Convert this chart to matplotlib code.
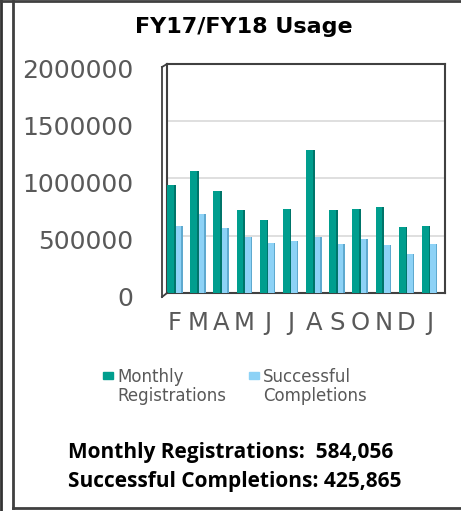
import numpy as np
import matplotlib
matplotlib.use("Agg")
from matplotlib import pyplot as plt
from matplotlib.lines import Line2D
from matplotlib.patches import Rectangle
import matplotlib.transforms as mtransforms

# ---- data ----
months = ["F", "M", "A", "M", "J", "J", "A", "S", "O", "N", "D", "J"]
monthly_reg = [946000, 1068000, 887000, 720000, 639000, 735000, 1244000,
               724000, 729000, 750000, 575000, 584056]
successful = [586000, 691000, 566000, 492000, 434000, 454000, 492000,
              428000, 472000, 419000, 340000, 425865]
y_ticks = [0, 500000, 1000000, 1500000, 2000000]

TEAL = "#009e8e"
TEAL_DARK = "#00756a"
BLUE = "#8dd2f6"
BLUE_DARK = "#5fa9cf"
GREY = "#595959"

W, H = 461, 511
fig = plt.figure(figsize=(W / 100, H / 100), dpi=100)


def fx(px):
    return px / W


def fy(py):
    return 1 - py / H


ax = fig.add_axes([fx(167), fy(292.8), fx(445) - fx(167), fy(64) - fy(292.8)])

x = np.arange(len(months))
w1, w2 = 0.37, 0.30
ax.bar(x - 0.5, monthly_reg, width=w1, align="edge", color=TEAL, zorder=3)
ax.bar(x - 0.5 + w1 - 0.07, monthly_reg, width=0.07, align="edge", color=TEAL_DARK, zorder=3)
ax.bar(x - 0.5 + w1, successful, width=w2, align="edge", color=BLUE, zorder=3)
ax.bar(x - 0.5 + w1 + w2 - 0.06, successful, width=0.06, align="edge", color=BLUE_DARK, zorder=3)

ax.set_xlim(-0.5, 11.5)
ax.set_ylim(0, 2000000)
ax.set_yticks(y_ticks)
ax.set_yticklabels([str(v) for v in y_ticks])
ax.set_xticks(x - 0.5 + (w1 + w2) / 2)
ax.set_xticklabels(months)
ax.tick_params(axis="y", length=0, pad=24, labelsize=18, labelcolor=GREY)
ax.tick_params(axis="x", length=0, pad=13, labelsize=17.5, labelcolor=GREY)
ax.grid(axis="y", color="#d9d9d9", linewidth=1.2, zorder=0)
for s in ax.spines.values():
    s.set_color("#404040")
    s.set_linewidth(1.5)

# nudge y labels down a few pixels like the original
for lab in ax.get_yticklabels():
    lab.set_transform(lab.get_transform() +
                      mtransforms.ScaledTranslation(0, -4 / 100, fig.dpi_scale_trans))

# 3D side wall of the plot area
wall = [((162, 67), (162, 297)), ((162, 67), (167, 64)), ((162, 297), (167, 293))]
for (x0, y0), (x1, y1) in wall:
    fig.add_artist(Line2D([fx(x0), fx(x1)], [fy(y0), fy(y1)], color="#404040", lw=1.3))

# title
fig.text(fx(244), fy(17), "FY17/FY18 Usage", ha="center", va="top",
         fontsize=16, fontweight="bold", color="black")

# legend, drawn by hand
fig.add_artist(Rectangle((fx(103), fy(379)), fx(10), fy(372) - fy(379), color=TEAL))
fig.text(fx(117), fy(368), "Monthly\nRegistrations", ha="left", va="top",
         fontsize=12, color=GREY, linespacing=1.05)
fig.add_artist(Rectangle((fx(249), fy(379)), fx(10), fy(372) - fy(379), color=BLUE))
fig.text(fx(263), fy(368), "Successful\nCompletions", ha="left", va="top",
         fontsize=12, color=GREY, linespacing=1.05)

# summary text
fig.text(fx(68), fy(458), "Monthly Registrations:  584,056", ha="left", va="baseline",
         fontsize=15, fontweight="bold", family="Open Sans", color="black")
fig.text(fx(68), fy(487), "Successful Completions: 425,865", ha="left", va="baseline",
         fontsize=15, fontweight="bold", family="Open Sans", color="black")

# outer frame
fig.add_artist(Line2D([fx(1), fx(1)], [0, 1], color="#333333", lw=2))
fig.add_artist(Line2D([fx(13), fx(13)], [fy(1), fy(508)], color="#404040", lw=2))
fig.add_artist(Line2D([0, 1], [fy(1), fy(1)], color="#404040", lw=2))
fig.add_artist(Line2D([fx(13), 1], [fy(508), fy(508)], color="#404040", lw=2))

fig.savefig("out.png", dpi=100, facecolor="white")
